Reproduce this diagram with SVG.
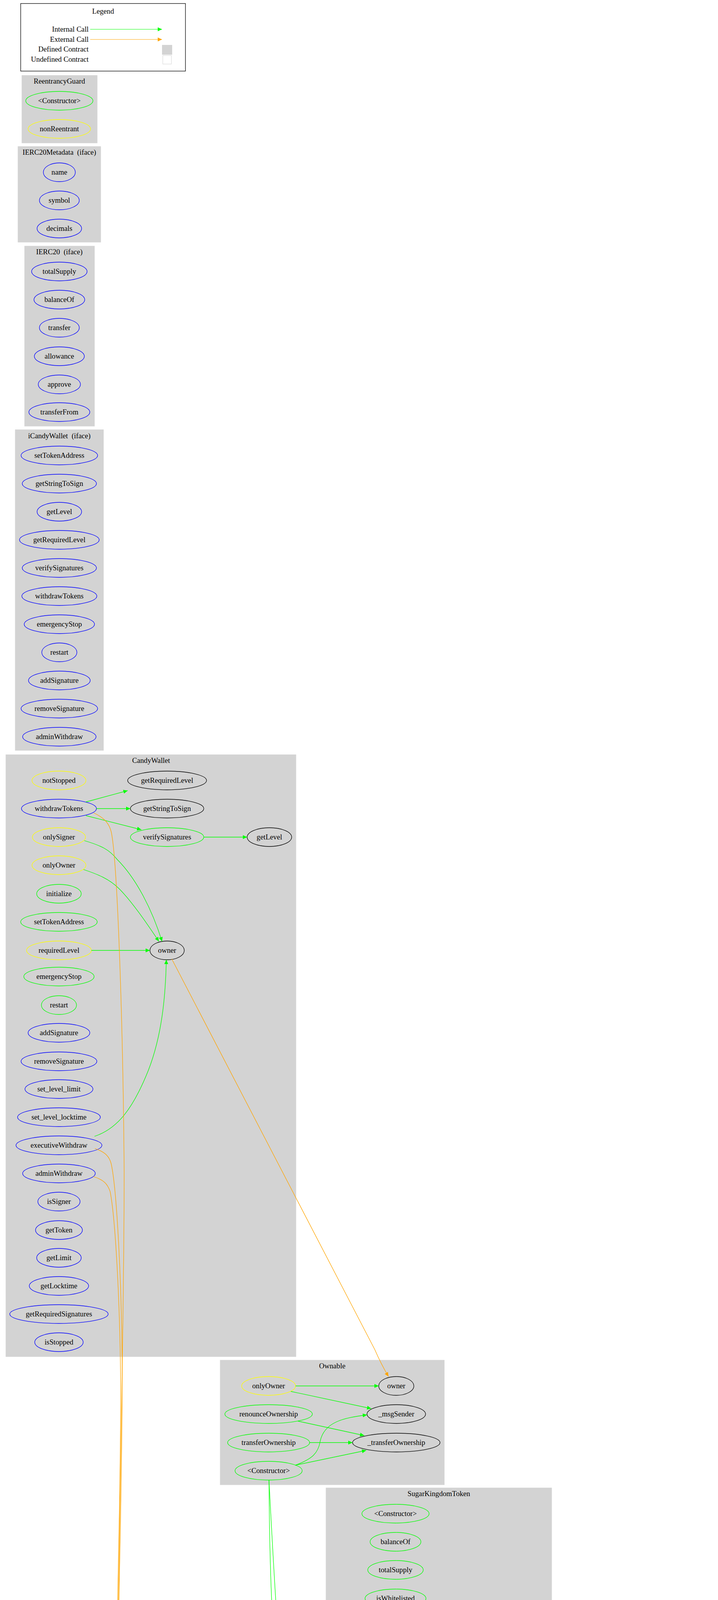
<svg xmlns="http://www.w3.org/2000/svg" width="1839" height="6163" viewBox="0 0 1839 6163">
<style>
text{font-family:"Liberation Serif","Times New Roman",serif;font-size:18.67px;fill:#000;text-anchor:middle;white-space:pre}
.cl{fill:#d3d3d3;stroke:#d3d3d3}
ellipse{fill:none;stroke-width:1.3}
.g{stroke:#00ff00}.y{stroke:#ffff00}.b{stroke:#0000ff}.k{stroke:#000}.w{stroke:#fff}
.e path,.e line{fill:none;stroke-width:1.3}
.i{stroke:#00ff00}.x{stroke:#ffa500}
</style>
<defs>
<marker id="ag" markerUnits="userSpaceOnUse" markerWidth="12" markerHeight="10" refX="11" refY="5" orient="auto"><path d="M0,0 L11,5 L0,10 z" fill="#00ff00"/></marker>
<marker id="ao" markerUnits="userSpaceOnUse" markerWidth="12" markerHeight="10" refX="11" refY="5" orient="auto"><path d="M0,0 L11,5 L0,10 z" fill="#ffa500"/></marker>
</defs>
<rect width="1839" height="6163" fill="#fff"/>
<g id="legend">
<rect x="53" y="9" width="422" height="173" fill="none" stroke="#000" stroke-width="1.3"/>
<text x="264" y="35">Legend</text>
<text x="227" y="81" style="text-anchor:end">Internal Call</text>
<text x="227" y="107" style="text-anchor:end">External Call</text>
<text x="227" y="132" style="text-anchor:end">Defined Contract</text>
<text x="227" y="158" style="text-anchor:end">Undefined Contract</text>
<line x1="231" y1="75" x2="415" y2="75" stroke="#00ff00" marker-end="url(#ag)"/>
<line x1="231" y1="101" x2="415" y2="101" stroke="#ffa500" marker-end="url(#ao)"/>
<rect x="415" y="115" width="26" height="25" fill="#d3d3d3"/>
<rect x="417" y="142" width="22" height="22" fill="none" stroke="#d3d3d3"/>
</g>
<g id="c_ReentrancyGuard"><rect class="cl" x="56" y="193" width="193" height="173"/><text x="152" y="214">ReentrancyGuard</text></g>
<g id="n_RG_ctor"><ellipse class="g" cx="152" cy="258" rx="86" ry="24"/><text x="152" y="264">&lt;Constructor&gt;</text></g>
<g id="n_RG_nonReentrant"><ellipse class="y" cx="152" cy="330" rx="80" ry="24"/><text x="152" y="336">nonReentrant</text></g>
<g id="c_IERC20Metadata"><rect class="cl" x="46" y="375" width="212" height="245"/><text x="152" y="396">IERC20Metadata  (iface)</text></g>
<g id="n_M_name"><ellipse class="b" cx="152" cy="441" rx="41" ry="24"/><text x="152" y="447">name</text></g>
<g id="n_M_symbol"><ellipse class="b" cx="152" cy="513" rx="51" ry="24"/><text x="152" y="519">symbol</text></g>
<g id="n_M_decimals"><ellipse class="b" cx="152" cy="585" rx="57" ry="24"/><text x="152" y="591">decimals</text></g>
<g id="c_IERC20"><rect class="cl" x="63" y="630" width="179" height="461"/><text x="152" y="651">IERC20  (iface)</text></g>
<g id="n_I_totalSupply"><ellipse class="b" cx="152" cy="695" rx="71" ry="24"/><text x="152" y="701">totalSupply</text></g>
<g id="n_I_balanceOf"><ellipse class="b" cx="152" cy="767" rx="65" ry="24"/><text x="152" y="773">balanceOf</text></g>
<g id="n_I_transfer"><ellipse class="b" cx="152" cy="839" rx="51" ry="24"/><text x="152" y="845">transfer</text></g>
<g id="n_I_allowance"><ellipse class="b" cx="152" cy="912" rx="64" ry="24"/><text x="152" y="918">allowance</text></g>
<g id="n_I_approve"><ellipse class="b" cx="152" cy="984" rx="54" ry="24"/><text x="152" y="990">approve</text></g>
<g id="n_I_transferFrom"><ellipse class="b" cx="152" cy="1055" rx="78" ry="24"/><text x="152" y="1061">transferFrom</text></g>
<g id="c_iCandyWallet"><rect class="cl" x="39" y="1100" width="226" height="821"/><text x="152" y="1122">iCandyWallet  (iface)</text></g>
<g id="n_iC_setTokenAddress"><ellipse class="b" cx="152" cy="1166" rx="98" ry="24"/><text x="152" y="1172">setTokenAddress</text></g>
<g id="n_iC_getStringToSign"><ellipse class="b" cx="152" cy="1238" rx="95" ry="24"/><text x="152" y="1244">getStringToSign</text></g>
<g id="n_iC_getLevel"><ellipse class="b" cx="152" cy="1310" rx="57" ry="24"/><text x="152" y="1316">getLevel</text></g>
<g id="n_iC_getRequiredLevel"><ellipse class="b" cx="152" cy="1382" rx="102" ry="24"/><text x="152" y="1388">getRequiredLevel</text></g>
<g id="n_iC_verifySignatures"><ellipse class="b" cx="152" cy="1454" rx="95" ry="24"/><text x="152" y="1460">verifySignatures</text></g>
<g id="n_iC_withdrawTokens"><ellipse class="b" cx="152" cy="1526" rx="96" ry="24"/><text x="152" y="1532">withdrawTokens</text></g>
<g id="n_iC_emergencyStop"><ellipse class="b" cx="152" cy="1598" rx="90" ry="24"/><text x="152" y="1604">emergencyStop</text></g>
<g id="n_iC_restart"><ellipse class="b" cx="152" cy="1670" rx="45" ry="24"/><text x="152" y="1676">restart</text></g>
<g id="n_iC_addSignature"><ellipse class="b" cx="152" cy="1742" rx="79" ry="24"/><text x="152" y="1748">addSignature</text></g>
<g id="n_iC_removeSignature"><ellipse class="b" cx="152" cy="1814" rx="98" ry="24"/><text x="152" y="1820">removeSignature</text></g>
<g id="n_iC_adminWithdraw"><ellipse class="b" cx="152" cy="1886" rx="94" ry="24"/><text x="152" y="1892">adminWithdraw</text></g>
<g id="c_CandyWallet"><rect class="cl" x="15" y="1932" width="743" height="1541"/><text x="387" y="1953">CandyWallet</text></g>
<g id="n_CW_notStopped"><ellipse class="y" cx="151" cy="1998" rx="69" ry="24"/><text x="151" y="2004">notStopped</text></g>
<g id="n_CW_withdrawTokens"><ellipse class="b" cx="151" cy="2070" rx="96" ry="24"/><text x="151" y="2076">withdrawTokens</text></g>
<g id="n_CW_onlySigner"><ellipse class="y" cx="151" cy="2143" rx="68" ry="24"/><text x="151" y="2149">onlySigner</text></g>
<g id="n_CW_onlyOwner"><ellipse class="y" cx="151" cy="2215" rx="69" ry="24"/><text x="151" y="2221">onlyOwner</text></g>
<g id="n_CW_initialize"><ellipse class="g" cx="151" cy="2288" rx="57" ry="24"/><text x="151" y="2294">initialize</text></g>
<g id="n_CW_setTokenAddress"><ellipse class="g" cx="151" cy="2360" rx="98" ry="24"/><text x="151" y="2366">setTokenAddress</text></g>
<g id="n_CW_requiredLevel"><ellipse class="y" cx="151" cy="2433" rx="83" ry="24"/><text x="151" y="2439">requiredLevel</text></g>
<g id="n_CW_emergencyStop"><ellipse class="g" cx="151" cy="2500" rx="90" ry="24"/><text x="151" y="2506">emergencyStop</text></g>
<g id="n_CW_restart"><ellipse class="g" cx="151" cy="2573" rx="45" ry="24"/><text x="151" y="2579">restart</text></g>
<g id="n_CW_addSignature"><ellipse class="b" cx="151" cy="2644" rx="79" ry="24"/><text x="151" y="2650">addSignature</text></g>
<g id="n_CW_removeSignature"><ellipse class="b" cx="151" cy="2717" rx="97" ry="24"/><text x="151" y="2723">removeSignature</text></g>
<g id="n_CW_set_level_limit"><ellipse class="b" cx="151" cy="2788" rx="87" ry="24"/><text x="151" y="2794">set_level_limit</text></g>
<g id="n_CW_set_level_locktime"><ellipse class="b" cx="151" cy="2860" rx="106" ry="24"/><text x="151" y="2866">set_level_locktime</text></g>
<g id="n_CW_executiveWithdraw"><ellipse class="b" cx="151" cy="2932" rx="110" ry="24"/><text x="151" y="2938">executiveWithdraw</text></g>
<g id="n_CW_adminWithdraw"><ellipse class="b" cx="151" cy="3004" rx="93" ry="24"/><text x="151" y="3010">adminWithdraw</text></g>
<g id="n_CW_isSigner"><ellipse class="b" cx="151" cy="3076" rx="54" ry="24"/><text x="151" y="3082">isSigner</text></g>
<g id="n_CW_getToken"><ellipse class="b" cx="151" cy="3149" rx="60" ry="24"/><text x="151" y="3155">getToken</text></g>
<g id="n_CW_getLimit"><ellipse class="b" cx="151" cy="3220" rx="57" ry="24"/><text x="151" y="3226">getLimit</text></g>
<g id="n_CW_getLocktime"><ellipse class="b" cx="151" cy="3292" rx="76" ry="24"/><text x="151" y="3298">getLocktime</text></g>
<g id="n_CW_getRequiredSignatures"><ellipse class="b" cx="151" cy="3364" rx="126" ry="24"/><text x="151" y="3370">getRequiredSignatures</text></g>
<g id="n_CW_isStopped"><ellipse class="b" cx="151" cy="3436" rx="62" ry="24"/><text x="151" y="3442">isStopped</text></g>
<g id="n_CW_getRequiredLevel"><ellipse class="k" cx="428" cy="1998" rx="101" ry="24"/><text x="428" y="2004">getRequiredLevel</text></g>
<g id="n_CW_getStringToSign"><ellipse class="k" cx="428" cy="2070" rx="94" ry="24"/><text x="428" y="2076">getStringToSign</text></g>
<g id="n_CW_verifySignatures"><ellipse class="g" cx="428" cy="2143" rx="94" ry="24"/><text x="428" y="2149">verifySignatures</text></g>
<g id="n_CW_getLevel"><ellipse class="k" cx="690" cy="2143" rx="57" ry="24"/><text x="690" y="2149">getLevel</text></g>
<g id="n_CW_owner"><ellipse class="k" cx="428" cy="2433" rx="44" ry="24"/><text x="428" y="2439">owner</text></g>
<g id="c_Ownable"><rect class="cl" x="564" y="3482" width="574" height="319"/><text x="851" y="3503">Ownable</text></g>
<g id="n_O_onlyOwner"><ellipse class="y" cx="688" cy="3548" rx="69" ry="24"/><text x="688" y="3554">onlyOwner</text></g>
<g id="n_O_renounceOwnership"><ellipse class="g" cx="688" cy="3620" rx="112" ry="24"/><text x="688" y="3626">renounceOwnership</text></g>
<g id="n_O_transferOwnership"><ellipse class="g" cx="688" cy="3693" rx="105" ry="24"/><text x="688" y="3699">transferOwnership</text></g>
<g id="n_O_ctor"><ellipse class="g" cx="688" cy="3765" rx="86" ry="24"/><text x="688" y="3771">&lt;Constructor&gt;</text></g>
<g id="n_O_owner"><ellipse class="k" cx="1015" cy="3548" rx="45" ry="24"/><text x="1015" y="3554">owner</text></g>
<g id="n_O_msgSender"><ellipse class="k" cx="1015" cy="3620" rx="75" ry="24"/><text x="1015" y="3626">_msgSender</text></g>
<g id="n_O_transferOwnershipInt"><ellipse class="k" cx="1015" cy="3693" rx="112" ry="24"/><text x="1015" y="3699">_transferOwnership</text></g>
<g id="c_SugarKingdomToken"><rect class="cl" x="835" y="3809" width="578" height="1533"/><text x="1124" y="3830">SugarKingdomToken</text></g>
<g id="n_S_ctor"><ellipse class="g" cx="1013" cy="3875" rx="86" ry="24"/><text x="1013" y="3881">&lt;Constructor&gt;</text></g>
<g id="n_S_balanceOf"><ellipse class="g" cx="1013" cy="3947" rx="65" ry="24"/><text x="1013" y="3953">balanceOf</text></g>
<g id="n_S_totalSupply"><ellipse class="g" cx="1013" cy="4019" rx="71" ry="24"/><text x="1013" y="4025">totalSupply</text></g>
<g id="n_S_isWhitelisted"><ellipse class="g" cx="1013" cy="4092" rx="78" ry="24"/><text x="1013" y="4098">isWhitelisted</text></g>
<g id="n_S_addWhitelisted"><ellipse class="g" cx="1013" cy="4164" rx="88" ry="24"/><text x="1013" y="4170">addWhitelisted</text></g>
<g id="n_S_removeWhitelisted"><ellipse class="g" cx="1013" cy="4237" rx="107" ry="24"/><text x="1013" y="4243">removeWhitelisted</text></g>
<g id="n_S_isPool"><ellipse class="g" cx="1013" cy="4309" rx="45" ry="24"/><text x="1013" y="4315">isPool</text></g>
<g id="n_S_addPool"><ellipse class="g" cx="1013" cy="4381" rx="54" ry="24"/><text x="1013" y="4387">addPool</text></g>
<g id="n_S_removePool"><ellipse class="g" cx="1013" cy="4453" rx="74" ry="24"/><text x="1013" y="4459">removePool</text></g>
<g id="n_S_setTaxAccount"><ellipse class="g" cx="1013" cy="4526" rx="87" ry="24"/><text x="1013" y="4532">setTaxAccount</text></g>
<g id="n_S_initFees"><ellipse class="k" cx="1013" cy="4595" rx="53" ry="24"/><text x="1013" y="4601">initFees</text></g>
<g id="n_S_changeFees"><ellipse class="g" cx="1013" cy="4667" rx="71" ry="24"/><text x="1013" y="4673">changeFees</text></g>
<g id="n_S_mint"><ellipse class="w" cx="1013" cy="4740" rx="43" ry="24"/><text x="1013" y="4746">_mint</text></g>
<g id="n_S_burn"><ellipse class="w" cx="1013" cy="4812" rx="43" ry="24"/><text x="1013" y="4818">_burn</text></g>
<g id="n_S_calculateFees"><ellipse class="g" cx="1013" cy="4884" rx="80" ry="24"/><text x="1013" y="4890">calculateFees</text></g>
<g id="n_S_getFees"><ellipse class="k" cx="1350" cy="4884" rx="51" ry="24"/><text x="1350" y="4890">getFees</text></g>
<g id="n_S_transfer"><ellipse class="w" cx="1013" cy="4957" rx="57" ry="24"/><text x="1013" y="4963">_transfer</text></g>
<g id="n_S_beforeTokenTransfer"><ellipse class="w" cx="1013" cy="5029" rx="123" ry="24"/><text x="1013" y="5035">_beforeTokenTransfer</text></g>
<g id="n_S_setAntisnipeDisable"><ellipse class="b" cx="1013" cy="5101" rx="112" ry="24"/><text x="1013" y="5107">setAntisnipeDisable</text></g>
<g id="n_S_setLiquidityRestrictorDisable"><ellipse class="b" cx="1013" cy="5173" rx="158" ry="24"/><text x="1013" y="5179">setLiquidityRestrictorDisable</text></g>
<g id="n_S_setAntisnipeAddress"><ellipse class="b" cx="1013" cy="5246" rx="115" ry="24"/><text x="1013" y="5252">setAntisnipeAddress</text></g>
<g id="n_S_setLiquidityRestrictionAddress"><ellipse class="b" cx="1013" cy="5318" rx="167" ry="24"/><text x="1013" y="5324">setLiquidityRestrictionAddress</text></g>
<g id="c_Context"><rect class="cl" x="66" y="4729" width="172" height="174"/><text x="151" y="4750">Context</text></g>
<g id="n_C_msgSender"><ellipse class="w" cx="151" cy="4795" rx="75" ry="24"/><text x="151" y="4801">_msgSender</text></g>
<g id="n_C_msgData"><ellipse class="w" cx="151" cy="4867" rx="63" ry="24"/><text x="151" y="4873">_msgData</text></g>
<g id="c_ERC20"><rect class="cl" x="329" y="5359" width="1152" height="605"/><text x="908" y="5380">ERC20</text></g>
<g id="n_E_ctor"><ellipse class="g" cx="426" cy="5424" rx="86" ry="24"/><text x="426" y="5430">&lt;Constructor&gt;</text></g>
<g id="n_E_name"><ellipse class="g" cx="426" cy="5497" rx="41" ry="24"/><text x="426" y="5503">name</text></g>
<g id="n_E_symbol"><ellipse class="g" cx="426" cy="5568" rx="51" ry="24"/><text x="426" y="5574">symbol</text></g>
<g id="n_E_decimals"><ellipse class="g" cx="426" cy="5640" rx="57" ry="24"/><text x="426" y="5646">decimals</text></g>
<g id="n_E_totalSupply"><ellipse class="g" cx="426" cy="5712" rx="71" ry="24"/><text x="426" y="5718">totalSupply</text></g>
<g id="n_E_balanceOf"><ellipse class="g" cx="426" cy="5784" rx="65" ry="24"/><text x="426" y="5790">balanceOf</text></g>
<g id="n_E_transfer"><ellipse class="g" cx="426" cy="5856" rx="51" ry="24"/><text x="426" y="5862">transfer</text></g>
<g id="n_E_transferFrom"><ellipse class="g" cx="426" cy="5928" rx="78" ry="24"/><text x="426" y="5934">transferFrom</text></g>
<g id="n_E_transferInt"><ellipse class="k" cx="688" cy="5568" rx="57" ry="24"/><text x="688" y="5574">_transfer</text></g>
<g id="n_E_spendAllowance"><ellipse class="k" cx="688" cy="5640" rx="102" ry="24"/><text x="688" y="5646">_spendAllowance</text></g>
<g id="n_E_decreaseAllowance"><ellipse class="g" cx="688" cy="5712" rx="109" ry="24"/><text x="688" y="5718">decreaseAllowance</text></g>
<g id="n_E_increaseAllowance"><ellipse class="g" cx="688" cy="5784" rx="107" ry="24"/><text x="688" y="5790">increaseAllowance</text></g>
<g id="n_E_approve"><ellipse class="g" cx="688" cy="5856" rx="54" ry="24"/><text x="688" y="5862">approve</text></g>
<g id="n_E_mint"><ellipse class="w" cx="1015" cy="5542" rx="42" ry="24"/><text x="1015" y="5548">_mint</text></g>
<g id="n_E_type"><ellipse class="k" cx="1015" cy="5640" rx="36" ry="24"/><text x="1015" y="5646">type</text></g>
<g id="n_E_allowance"><ellipse class="k" cx="1015" cy="5712" rx="64" ry="24"/><text x="1015" y="5718">allowance</text></g>
<g id="n_E_approveInt"><ellipse class="k" cx="1015" cy="5784" rx="60" ry="24"/><text x="1015" y="5790">_approve</text></g>
<g id="n_E_msgSender"><ellipse class="k" cx="1015" cy="5856" rx="75" ry="24"/><text x="1015" y="5862">_msgSender</text></g>
<g id="n_E_burn"><ellipse class="w" cx="1015" cy="5928" rx="42" ry="24"/><text x="1015" y="5934">_burn</text></g>
<g id="n_E_afterTokenTransfer"><ellipse class="k" cx="1348" cy="5531" rx="114" ry="24"/><text x="1348" y="5537">_afterTokenTransfer</text></g>
<g id="n_E_beforeTokenTransfer"><ellipse class="k" cx="1348" cy="5603" rx="122" ry="24"/><text x="1348" y="5609">_beforeTokenTransfer</text></g>
<g id="c_ERC20Burnable"><rect class="cl" x="352" y="5973" width="146" height="173"/><text x="426" y="5995">ERC20Burnable</text></g>
<g id="n_B_burnFrom"><ellipse class="g" cx="426" cy="6039" rx="62" ry="24"/><text x="426" y="6045">burnFrom</text></g>
<g id="n_B_burn"><ellipse class="g" cx="426" cy="6111" rx="36" ry="24"/><text x="426" y="6117">burn</text></g>
<g id="c_ILiquidityRestrictor"><rect class="cl" x="1506" y="5484" width="317" height="100"/><text x="1664" y="5504">ILiquidityRestrictor  (iface)</text></g>
<g id="n_L_assure"><ellipse class="k" cx="1664" cy="5548" rx="148" ry="24"/><text x="1664" y="5554">assureLiquidityRestrictions</text></g>
<g id="c_IAntisnipe"><rect class="cl" x="1549" y="5594" width="232" height="100"/><text x="1664" y="5615">IAntisnipe  (iface)</text></g>
<g id="n_A_assure"><ellipse class="k" cx="1664" cy="5659" rx="105" ry="24"/><text x="1664" y="5665">assureCanTransfer</text></g>
<g id="edges" class="e">
<g class="i" marker-end="url(#ag)">
<path d="M220,2053 L327,2024"/>
<path d="M247,2070 L334,2070"/>
<path d="M220,2088 L362,2124"/>
<path d="M522,2143 L633,2143"/>
<path d="M216,2152 C260,2165 280,2175 300,2200 C350,2250 390,2330 415,2410"/>
<path d="M214,2226 C250,2238 280,2250 305,2275 C340,2310 380,2370 407,2410"/>
<path d="M234,2433 L384,2433"/>
<path d="M242,2909 C300,2890 340,2840 380,2740 C415,2650 424,2550 426,2457"/>
<path d="M757,3548 L970,3548"/>
<path d="M745,3562 L951,3606"/>
<path d="M763,3638 L933,3675"/>
<path d="M793,3693 L903,3693"/>
<path d="M756,3751 C800,3735 815,3720 820,3690 C830,3640 880,3630 940,3622"/>
<path d="M756,3751 L938,3713"/>
<path d="M689,3789 C690,4000 700,4350 730,4430 C760,4500 820,4580 960,4597"/>
<path d="M689,3789 C710,4200 760,5000 833,5350 C860,5430 930,5500 982,5524"/>
<path d="M1078,4869 C1150,4862 1220,4863 1305,4870"/>
<path d="M1093,4884 L1299,4884"/>
<path d="M1078,4899 C1150,4906 1220,4905 1305,4898"/>
<path d="M690,5544 C700,5300 740,5050 800,4976 C820,4930 860,4895 932,4885"/>
<path d="M476,5850 C530,5835 550,5790 550,5730 C545,5650 570,5590 631,5572"/>
<path d="M468,5872 C530,5890 600,5905 700,5900 C800,5895 870,5880 948,5868"/>
<path d="M492,5916 C560,5890 570,5830 560,5750 C548,5650 575,5585 633,5568"/>
<path d="M494,5915 C540,5890 560,5850 560,5780 C560,5720 570,5670 601,5653"/>
<path d="M504,5931 C650,5930 750,5920 810,5905 C850,5890 890,5875 948,5870"/>
<path d="M712,5546 C800,5490 950,5478 1000,5478 C1100,5478 1200,5490 1275,5510"/>
<path d="M735,5553 C800,5520 900,5502 1000,5502 C1100,5502 1170,5510 1238,5520"/>
<path d="M745,5560 L1260,5590"/>
<path d="M738,5582 L1228,5607"/>
<path d="M745,5574 C800,5600 830,5640 830,5700 C820,5800 830,5910 973,5930"/>
<path d="M790,5640 L979,5640"/>
<path d="M763,5656 L958,5700"/>
<path d="M763,5656 C790,5670 810,5690 820,5720 C840,5770 900,5780 955,5783"/>
<path d="M797,5712 L951,5712"/>
<path d="M760,5728 L958,5772"/>
<path d="M760,5728 C790,5740 815,5760 820,5790 C830,5830 880,5845 945,5851"/>
<path d="M760,5768 L958,5724"/>
<path d="M795,5784 L955,5784"/>
<path d="M760,5800 L952,5843"/>
<path d="M735,5845 L959,5797"/>
<path d="M742,5856 L940,5856"/>
<path d="M1057,5535 L1234,5527"/>
<path d="M1057,5547 L1236,5542"/>
<path d="M1055,5547 L1272,5585"/>
<path d="M1050,5558 L1240,5597"/>
<path d="M1055,5918 C1130,5910 1170,5895 1185,5850 C1205,5760 1180,5700 1190,5650 C1200,5600 1230,5570 1264,5552"/>
<path d="M1055,5922 C1140,5915 1190,5890 1200,5840 C1215,5760 1190,5700 1200,5640 C1210,5600 1240,5575 1278,5557"/>
<path d="M1050,5940 C1130,5945 1180,5920 1220,5880 C1270,5820 1310,5720 1335,5628"/>
<path d="M1052,5943 C1140,5950 1190,5925 1230,5885 C1280,5825 1315,5725 1340,5628"/>
<path d="M470,6022 C530,5990 550,5900 545,5820 C540,5720 560,5670 601,5653"/>
<path d="M470,6022 C600,5980 700,5965 800,5960 C860,5950 870,5900 945,5860"/>
<path d="M488,6034 L974,5935"/>
<path d="M461,6104 C600,6080 780,6040 810,5980 C820,5900 880,5870 948,5862"/>
<path d="M462,6117 C650,6130 800,6110 990,5950"/>
</g>
<g class="x" marker-end="url(#ao)">
<path d="M440,2455 L960,3455 Q975,3490 995,3524"/>
<path d="M240,2081 C270,2095 280,2110 285,2130 C300,2200 315,2600 318,3000 C318,3500 290,4500 290,5500 C292,5750 300,5810 320,5830 C335,5845 355,5850 375,5851"/>
<path d="M243,2940 C270,2950 280,2960 285,2980 C300,3050 312,3300 313,3500 C313,4000 287,4500 287,5500 C289,5750 297,5810 318,5832 C333,5846 353,5851 375,5851"/>
<path d="M239,3012 C265,3020 275,3030 282,3050 C296,3120 308,3350 309,3550 C309,4000 284,4500 284,5500 C286,5750 294,5812 316,5834 C331,5848 351,5852 375,5852"/>
<path d="M1440,5588 L1563,5567"/>
<path d="M1440,5618 L1582,5643"/>
</g>
</g>
</svg>
